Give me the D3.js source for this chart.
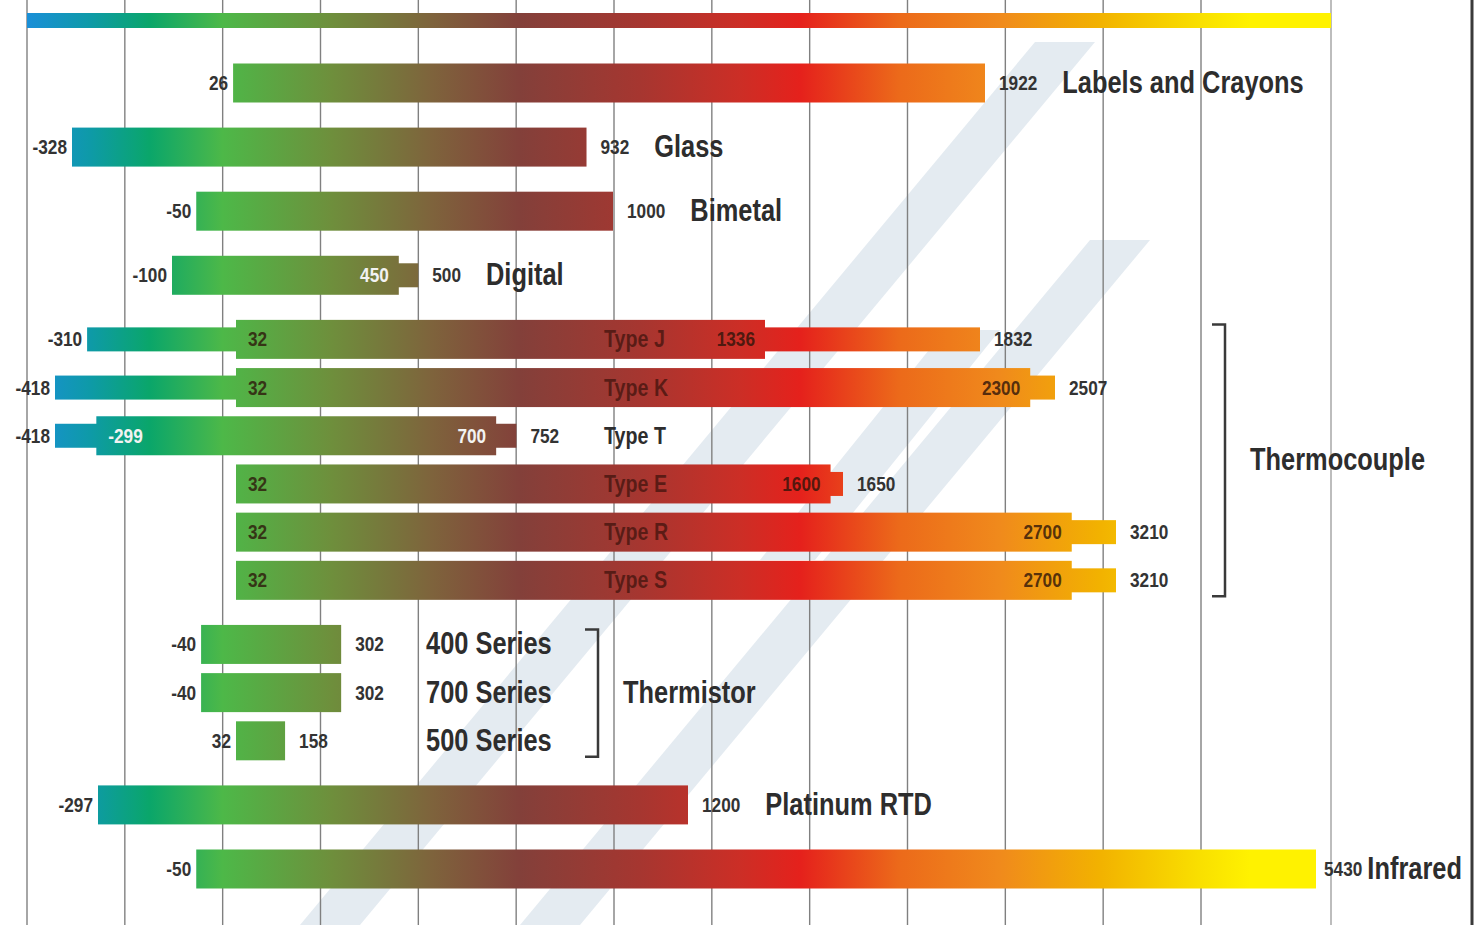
<!DOCTYPE html>
<html>
<head>
<meta charset="utf-8">
<script src="https://cdn.jsdelivr.net/npm/d3@7"></script>
<style>
  html, body { margin: 0; padding: 0; background: #fff; overflow: hidden; }
  svg text { font-family: "Liberation Sans", Arial, sans-serif; font-weight: bold; }
</style>
</head>
<body>
<div id="chart"></div>
<script>
// rows, top to bottom
const instruments = ["Labels and Crayons", "Glass", "Bimetal", "Digital",
  "Type J", "Type K", "Type T", "Type E", "Type R", "Type S",
  "400 Series", "700 Series", "500 Series", "Platinum RTD", "Infrared"];
const groups = ["", "", "", "",
  "Thermocouple", "Thermocouple", "Thermocouple", "Thermocouple", "Thermocouple", "Thermocouple",
  "Thermistor", "Thermistor", "Thermistor", "", ""];
// full range (°F)
const rangeMin = [26, -328, -50, -100, -310, -418, -418, 32, 32, 32, -40, -40, 32, -297, -50];
const rangeMax = [1922, 932, 1000, 500, 1832, 2507, 752, 1650, 3210, 3210, 302, 302, 158, 1200, 5430];
// main (thick) part of the range
const coreMin = [26, -328, -50, -100, 32, 32, -299, 32, 32, 32, -40, -40, 32, -297, -50];
const coreMax = [1922, 932, 1000, 450, 1336, 2300, 700, 1600, 2700, 2700, 302, 302, 158, 1200, 5430];

const width = 1479, height = 925;
const plotLeft = 27, plotRight = 1331, borderX = 1472;
const squeeze = 0.82;   // the lettering in the original is condensed

const svg = d3.select("#chart").append("svg")
    .attr("width", width)
    .attr("height", height);

// the original axis is drawn by hand, so the temperature scale is piecewise
const x = d3.scaleLinear()
    .domain([-418, -328, -297, -100, 32, 1000, 1200, 1336, 1650, 1832, 1922, 2507, 3210, 5430])
    .range([55, 72, 98, 172, 236, 613, 688, 765, 843, 980, 985, 1055, 1116, 1316]);

// rows in the same group sit closer together
let slot = 0;
const slots = instruments.map((d, i) => {
  if (i > 0) slot += (groups[i] && groups[i] === groups[i - 1]) ? 1 : 1.33;
  return slot;
});
const y = d3.scaleLinear().domain([0, slot]).range([83, 869]);

// width of a text once it is squeezed
const textW = t => t.node().getComputedTextLength() * squeeze;

// heat gradient, shared by every bar (follows the x position)
const heat = svg.append("defs").append("linearGradient")
    .attr("id", "heat")
    .attr("gradientUnits", "userSpaceOnUse")
    .attr("x1", plotLeft).attr("x2", plotRight)
    .attr("y1", 0).attr("y2", 0);
const stops = [
  [0, "#1a8fd8"], [0.048, "#0e9aa8"], [0.094, "#0aa66a"], [0.15, "#4db848"],
  [0.233, "#6e8f3c"], [0.309, "#7e643c"], [0.378, "#83403a"], [0.47, "#a63630"],
  [0.547, "#cc2e26"], [0.593, "#e5211c"], [0.669, "#ec6a1a"], [0.746, "#f08a1c"],
  [0.823, "#f2b200"], [0.9, "#f9e000"], [0.938, "#fff200"], [1, "#fff200"]];
heat.selectAll("stop").data(stops).enter().append("stop")
    .attr("offset", d => d[0])
    .attr("stop-color", d => d[1]);

// faint watermark
const mark = svg.append("g").attr("fill", "#e4ebf1");
[
  [[300, 925], [360, 925], [1095, 42], [1035, 42]],
  [[520, 925], [580, 925], [1150, 240], [1090, 240]],
  [[760, 560], [815, 560], [1000, 330], [945, 330]]
].forEach(p => mark.append("polygon").attr("points", p.map(q => q.join(",")).join(" ")));

// vertical grid
const gridX = d3.range(13).map(i => plotLeft + i * (1201 - plotLeft) / 12);
svg.append("g").selectAll("line").data(gridX).enter().append("line")
    .attr("x1", d => d).attr("x2", d => d)
    .attr("y1", 0).attr("y2", height)
    .attr("stroke", "#808080")
    .attr("stroke-width", 1.4);
svg.append("line")
    .attr("x1", plotRight).attr("x2", plotRight)
    .attr("y1", 0).attr("y2", height)
    .attr("stroke", "#bdbdbd").attr("stroke-width", 2);
svg.append("line")
    .attr("x1", borderX).attr("x2", borderX)
    .attr("y1", 0).attr("y2", height)
    .attr("stroke", "#3a3a3a").attr("stroke-width", 3);

// colour key across the top
svg.append("rect")
    .attr("x", plotLeft).attr("y", 13)
    .attr("width", plotRight - plotLeft).attr("height", 15)
    .attr("fill", "url(#heat)");

const rows = instruments.map((name, i) => ({
  name: name, group: groups[i], cy: y(slots[i]),
  rMin: rangeMin[i], rMax: rangeMax[i], cMin: coreMin[i], cMax: coreMax[i]
}));

const bars = svg.append("g");
// thin extensions
rows.forEach(d => {
  if (d.rMin < d.cMin)
    bars.append("rect").attr("x", x(d.rMin)).attr("y", d.cy - 12)
        .attr("width", x(d.cMin) - x(d.rMin) + 1).attr("height", 24)
        .attr("fill", "url(#heat)");
  if (d.rMax > d.cMax)
    bars.append("rect").attr("x", x(d.cMax) - 1).attr("y", d.cy - 12)
        .attr("width", x(d.rMax) - x(d.cMax) + 1).attr("height", 24)
        .attr("fill", "url(#heat)");
});
bars.selectAll("rect.core").data(rows).enter().append("rect")
    .attr("class", "core")
    .attr("x", d => x(d.cMin))
    .attr("y", d => d.cy - 19.5)
    .attr("width", d => x(d.cMax) - x(d.cMin))
    .attr("height", 39)
    .attr("fill", "url(#heat)");

const labels = svg.append("g");
const lightInner = new Set(["Digital", "Type T"]);
const typeX = 604, seriesX = 426;

rows.forEach(d => {
  const tc = d.group === "Thermocouple";
  // outside labels
  if (!(tc && d.rMin === d.cMin))
    labels.append("text").attr("x", x(d.rMin) - 5).attr("y", d.cy + 7)
        .attr("text-anchor", "end").attr("font-size", 21).attr("fill", "#333")
        .text(d.rMin);
  const maxLabel = labels.append("text").attr("x", x(d.rMax) + 14).attr("y", d.cy + 7)
      .attr("font-size", 21).attr("fill", "#333")
      .text(d.rMax);
  const valW = textW(maxLabel);
  // inside labels
  const innerFill = lightInner.has(d.name) ? "#f2f2f2" : "rgba(45,20,10,0.8)";
  if (tc)
    labels.append("text").attr("x", x(d.cMin) + 12).attr("y", d.cy + 7)
        .attr("font-size", 21).attr("fill", innerFill).text(d.cMin);
  if (d.cMax < d.rMax)
    labels.append("text").attr("x", x(d.cMax) - 10).attr("y", d.cy + 7)
        .attr("text-anchor", "end").attr("font-size", 21).attr("fill", innerFill)
        .text(d.cMax);
  // instrument name
  if (tc) {
    labels.append("text").attr("x", typeX).attr("y", d.cy + 8)
        .attr("font-size", 24)
        .attr("fill", d.name === "Type T" ? "#2d2d2d" : "rgba(60,18,12,0.72)")
        .text(d.name);
  } else {
    const t = labels.append("text").attr("y", d.cy + 10)
        .attr("font-size", 31).attr("fill", "#2d2d2d").text(d.name);
    const w = textW(t);
    let nx = d.group === "Thermistor" ? seriesX
        : x(d.rMax) + 14 + valW + 25;
    if (nx + w > borderX - 10) {
      nx = borderX - 10 - w;
      maxLabel.attr("x", nx - 5 - valW);
    }
    t.attr("x", nx);
  }
});

// group brackets
const bracketX = { "Thermocouple": 1212, "Thermistor": 585 };
Object.keys(bracketX).forEach(g => {
  const gr = rows.filter(d => d.group === g);
  const top = gr[0].cy - 15, bottom = gr[gr.length - 1].cy + 16;
  const bx = bracketX[g];
  svg.append("path")
      .attr("d", `M${bx},${top}H${bx + 13}V${bottom}H${bx}`)
      .attr("fill", "none").attr("stroke", "#3a3a3a").attr("stroke-width", 2.5);
  svg.append("text")
      .attr("x", bx + 38).attr("y", (top + bottom) / 2 + 10)
      .attr("font-size", 31).attr("fill", "#2d2d2d")
      .text(g);
});

// condense every text around its own anchor point
svg.selectAll("text").each(function() {
  const t = d3.select(this);
  const tx = +t.attr("x"), ty = +t.attr("y");
  t.attr("x", 0).attr("y", 0)
   .attr("transform", `translate(${tx},${ty}) scale(${squeeze},1)`);
});
</script>
</body>
</html>
